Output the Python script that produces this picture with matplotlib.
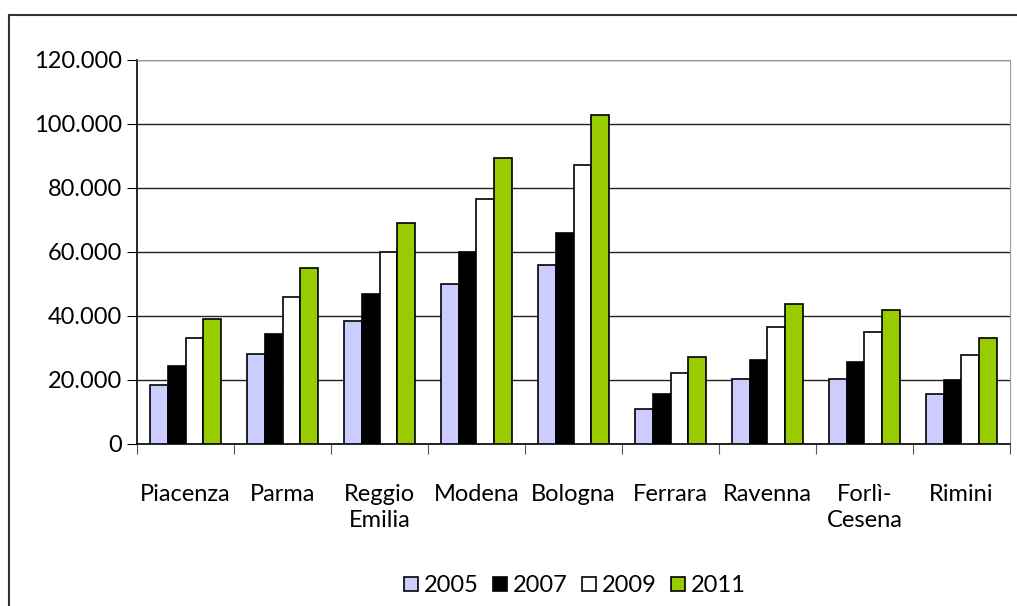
import numpy as np
import matplotlib
matplotlib.use("Agg")
import matplotlib.pyplot as plt
from matplotlib.lines import Line2D
from matplotlib.ticker import FuncFormatter

# === Dati ===
province = ["Piacenza", "Parma", "Reggio\nEmilia", "Modena", "Bologna",
            "Ferrara", "Ravenna", "Forlì-\nCesena", "Rimini"]
anni = ["2005", "2007", "2009", "2011"]
v2005 = [18400, 28000, 38300, 50000, 56000, 11000, 20400, 20400, 15600]
v2007 = [24500, 34500, 47000, 60000, 66000, 15700, 26300, 25700, 19900]
v2009 = [33200, 46000, 60000, 76500, 87200, 22100, 36600, 34900, 27900]
v2011 = [39000, 55000, 69000, 89400, 102900, 27300, 43600, 41900, 33100]
colori = ["#ccccff", "#000000", "#ffffff", "#99cc00"]

plt.rcParams['font.family'] = ['Lato', 'DejaVu Sans']
fs = 17

fig = plt.figure(figsize=(10.17, 6.06), dpi=100)
ax = fig.add_axes([137 / 1017, 1 - 444 / 606, (1010 - 137) / 1017, 384 / 606])

x = np.arange(len(province))
larg = 0.183
serie = [v2005, v2007, v2009, v2011]
for i, (vals, col) in enumerate(zip(serie, colori)):
    ax.bar(x + (i - 1.5) * larg, vals, width=larg, color=col,
           edgecolor="black", linewidth=1.2, label=anni[i], zorder=3)

ax.set_xlim(-0.5, len(province) - 0.5)
ax.set_ylim(0, 120000)
ax.set_yticks(np.arange(0, 120001, 20000))
ax.yaxis.set_major_formatter(FuncFormatter(lambda v, p: f"{int(v):,}".replace(",", ".")))
ax.grid(axis="y", color="#222222", linewidth=1, zorder=0)

# tick sulle separazioni delle categorie
ax.set_xticks(np.arange(-0.5, len(province), 1))
ax.set_xticklabels([])
ax.set_xticks(x, minor=True)
ax.set_xticklabels(province, minor=True, fontsize=fs, linespacing=1.3,
                   va="top")
ax.tick_params(axis="x", which="major", length=7, direction="out", color="#555555")
ax.tick_params(axis="x", which="minor", length=0, pad=29)
ax.tick_params(axis="y", length=7, direction="out", labelsize=fs, pad=4)

for s in ["left", "bottom"]:
    ax.spines[s].set_color("black")
    ax.spines[s].set_linewidth(1.2)
ax.spines["right"].set_color("#999999")
ax.spines["top"].set_color("#999999")

# legenda
handles = [Line2D([], [], marker="s", linestyle="none", markersize=10,
                  markerfacecolor=c, markeredgecolor="black", markeredgewidth=1.2)
           for c in colori]
fig.legend(handles, anni, loc="center", bbox_to_anchor=(575 / 1017, 1 - 586 / 606),
           ncol=4, frameon=False, fontsize=fs, handletextpad=0.25,
           columnspacing=0.6, handlelength=0.6)

# cornice del grafico
fig.add_artist(Line2D([9 / 1017, 9 / 1017], [0, 1 - 15 / 606], transform=fig.transFigure,
                      color="#333333", linewidth=1.5))
fig.add_artist(Line2D([9 / 1017, 1], [1 - 15 / 606, 1 - 15 / 606], transform=fig.transFigure,
                      color="#333333", linewidth=1.5))

fig.savefig("out.png", dpi=100)
